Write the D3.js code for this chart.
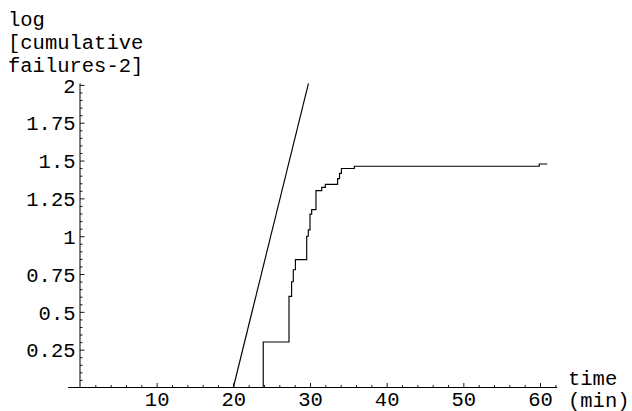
<!DOCTYPE html>
<html>
<head>
<meta charset="utf-8">
<script src="https://cdn.jsdelivr.net/npm/d3@7"></script>
<style>
  html, body { margin: 0; padding: 0; background: #fff; }
  svg text { font-family: "Liberation Mono", "DejaVu Sans Mono", monospace; font-size: 20.5px; fill: #000; }
</style>
</head>
<body>
<svg id="chart" width="632" height="411"></svg>
<script>
// Observed failures: step times (min) and cumulative failures - 2 from each time onward
const stepTimes = [0, 23.9, 27.26, 27.6, 27.82, 28.1, 29.57, 29.78, 30.0, 30.22, 30.78, 31.53, 32.0, 33.6, 33.85, 34.1, 35.78, 59.9, 60.95];
const failureCounts = [1, 2, 4, 5, 6, 7, 10, 11, 14, 15, 20, 21, 22, 24, 26, 28, 29, 30, 30];

// Reference straight line (time, log value)
const lineTimes = [20.0, 29.8];
const lineValues = [0, 2.01];

// Axis ticks
const xMajorTicks = [10, 20, 30, 40, 50, 60];
const xMinorTicks = [2, 4, 6, 8, 12, 14, 16, 18, 22, 24, 26, 28, 32, 34, 36, 38, 42, 44, 46, 48, 52, 54, 56, 58, 62];
const yMajorTicks = [0.25, 0.5, 0.75, 1, 1.25, 1.5, 1.75, 2];
const yTickLabels = ["0.25", "0.5", "0.75", "1", "1.25", "1.5", "1.75", "2"];
const yMinorTicks = d3.range(1, 40).map(i => +(i * 0.05).toFixed(2)).filter(v => Math.abs(v / 0.25 - Math.round(v / 0.25)) > 1e-6);

const yLabelLines = ["log", "[cumulative", "failures-2]"];
const xLabelLines = ["time", "(min)"];

const svg = d3.select("#chart");

const x = d3.scaleLinear().domain([0, 60]).range([80, 540]);
const y = d3.scaleLinear().domain([0, 2]).range([387.5, 84.9]);

// Axis lines
const axisG = svg.append("g").attr("stroke", "#000").attr("stroke-width", 1);
axisG.append("line")
  .attr("x1", x(-1.55)).attr("x2", x(62.25))
  .attr("y1", y(0)).attr("y2", y(0));
axisG.append("line")
  .attr("x1", x(0)).attr("x2", x(0))
  .attr("y1", y(0)).attr("y2", y(2.01));

// X axis: ticks point up into the plot
const xAxisMajor = d3.axisBottom(x).tickValues(xMajorTicks).tickSizeInner(-4.5).tickSizeOuter(0).tickFormat(d3.format("d"));
const xAxisMinor = d3.axisBottom(x).tickValues(xMinorTicks).tickSizeInner(-2.5).tickSizeOuter(0).tickFormat("");

const gxMinor = svg.append("g").attr("transform", `translate(0,${y(0)})`).call(xAxisMinor);
const gxMajor = svg.append("g").attr("transform", `translate(0,${y(0)})`).call(xAxisMajor);
[gxMinor, gxMajor].forEach(g => {
  g.select(".domain").remove();
  g.selectAll(".tick line").attr("stroke", "#000").attr("stroke-width", 0.9);
});
gxMajor.selectAll(".tick text")
  .attr("y", 405.5 - y(0)).attr("dy", 0)
  .attr("fill", "#000").attr("font-family", null).attr("font-size", null);

// Y axis: ticks point right into the plot
const yAxisMajor = d3.axisLeft(y).tickValues(yMajorTicks).tickSizeInner(-4.5).tickSizeOuter(0)
  .tickFormat((d, i) => yTickLabels[i]);
const yAxisMinor = d3.axisLeft(y).tickValues(yMinorTicks).tickSizeInner(-2.5).tickSizeOuter(0).tickFormat("");

const gyMinor = svg.append("g").attr("transform", `translate(${x(0)},0)`).call(yAxisMinor);
const gyMajor = svg.append("g").attr("transform", `translate(${x(0)},0)`).call(yAxisMajor);
[gyMinor, gyMajor].forEach(g => {
  g.select(".domain").remove();
  g.selectAll(".tick line").attr("stroke", "#000").attr("stroke-width", 0.9);
});
gyMajor.selectAll(".tick text")
  .attr("x", -4.5).attr("dy", "0.35em")
  .attr("fill", "#000").attr("font-family", null).attr("font-size", null);

// Step curve of observed failures
const stepData = stepTimes.map((t, i) => ({ t, v: Math.log10(failureCounts[i]) }));
svg.append("path")
  .datum(stepData)
  .attr("fill", "none")
  .attr("stroke", "#000")
  .attr("stroke-width", 1.15)
  .attr("d", d3.line().x(d => x(d.t)).y(d => y(d.v)).curve(d3.curveStepAfter));

// Straight reference line
const lineData = lineTimes.map((t, i) => ({ t, v: lineValues[i] }));
svg.append("path")
  .datum(lineData)
  .attr("fill", "none")
  .attr("stroke", "#000")
  .attr("stroke-width", 1.15)
  .attr("d", d3.line().x(d => x(d.t)).y(d => y(d.v)));

// Axis titles
svg.append("g").selectAll("text")
  .data(yLabelLines)
  .join("text")
  .attr("x", 8)
  .attr("y", (d, i) => 26 + i * 23)
  .text(d => d);

svg.append("g").selectAll("text")
  .data(xLabelLines)
  .join("text")
  .attr("x", 568)
  .attr("y", (d, i) => 385 + i * 21.5)
  .text(d => d);
</script>
</body>
</html>
